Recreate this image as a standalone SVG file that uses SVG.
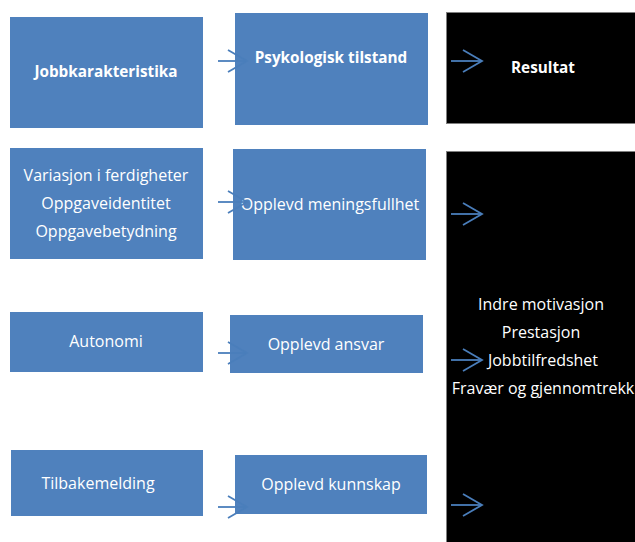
<svg xmlns="http://www.w3.org/2000/svg" width="635" height="542" viewBox="0 0 635 542">
<defs>
<style>
.b{fill:#4F81BD;}
.k{fill:#000000;stroke:#7f7f7f;stroke-width:1;}
text{font-family:"Open Sans","Liberation Sans",sans-serif;font-size:16px;fill:#ffffff;text-anchor:middle;}
.bold{font-weight:bold;font-size:15.3px;}
.c{stroke:#4A7EBB;stroke-width:1.8;fill:none;}
</style>
<marker id="ah" markerUnits="userSpaceOnUse" markerWidth="24" markerHeight="26" refX="20" refY="12" orient="auto" viewBox="0 0 24 26">
<path d="M1,1 L20,12 L1,23" fill="none" stroke="#4A7EBB" stroke-width="1.8"/>
</marker>
</defs>
<rect width="635" height="542" fill="#ffffff"/>
<g id="n-jobb"><rect class="b" x="10" y="17" width="193" height="111"/><text class="bold" x="106" y="77">Jobbkarakteristika</text></g>
<g id="n-psyk"><rect class="b" x="235" y="13" width="193" height="112"/><text class="bold" x="331" y="63">Psykologisk tilstand</text></g>
<g id="n-res"><rect class="k" x="446.5" y="12.5" width="190" height="111"/><text class="bold" x="543" y="73">Resultat</text></g>
<g id="n-var"><rect class="b" x="10" y="148" width="193" height="111"/><text x="106" y="181">Variasjon i ferdigheter</text><text x="106" y="209">Oppgaveidentitet</text><text x="106" y="237">Oppgavebetydning</text></g>
<g id="n-men"><rect class="b" x="233" y="149" width="193" height="111"/><text x="330" y="210">Opplevd meningsfullhet</text></g>
<g id="n-utfall"><rect class="k" x="446.5" y="151.5" width="190" height="392"/><text x="541" y="310">Indre motivasjon</text><text x="541" y="338">Prestasjon</text><text x="543" y="366">Jobbtilfredshet</text><text x="543" y="394">Fravær og gjennomtrekk</text></g>
<g id="n-aut"><rect class="b" x="10" y="312" width="193" height="60"/><text x="106" y="347">Autonomi</text></g>
<g id="n-ans"><rect class="b" x="230" y="315" width="193" height="58"/><text x="326" y="350">Opplevd ansvar</text></g>
<g id="n-tilb"><rect class="b" x="11" y="450" width="192" height="66"/><text x="98" y="489">Tilbakemelding</text></g>
<g id="n-kunn"><rect class="b" x="235" y="455" width="192" height="59"/><text x="331" y="490">Opplevd kunnskap</text></g>
<g id="connectors">
<line class="c" x1="218" y1="61" x2="247" y2="61" marker-end="url(#ah)"/>
<line class="c" x1="451" y1="61" x2="482" y2="61" marker-end="url(#ah)"/>
<line class="c" x1="218" y1="202" x2="247" y2="202" marker-end="url(#ah)"/>
<line class="c" x1="451" y1="214" x2="482" y2="214" marker-end="url(#ah)"/>
<line class="c" x1="218" y1="353" x2="247" y2="353" marker-end="url(#ah)"/>
<line class="c" x1="451" y1="360" x2="482" y2="360" marker-end="url(#ah)"/>
<line class="c" x1="218" y1="507" x2="247" y2="507" marker-end="url(#ah)"/>
<line class="c" x1="451" y1="505" x2="482" y2="505" marker-end="url(#ah)"/>
</g>
</svg>
